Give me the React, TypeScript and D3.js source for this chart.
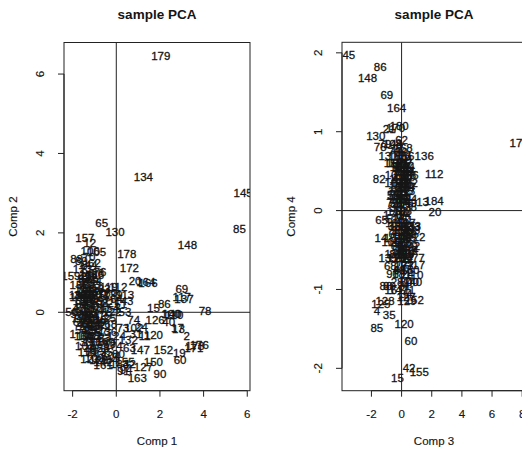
import React from 'react';
import * as d3 from 'd3';

const labels = [
  1,2,3,4,5,6,7,8,9,10,11,12,13,14,15,16,17,18,19,20,
  21,22,23,24,25,26,27,28,29,30,31,32,33,34,35,36,37,38,39,40,
  41,42,43,44,45,46,47,48,49,50,51,52,53,54,55,56,57,58,59,60,
  61,62,63,64,65,66,67,68,69,70,71,72,73,74,75,76,77,78,79,80,
  81,82,83,84,85,86,87,88,89,90,91,92,93,94,95,96,97,98,99,100,
  101,102,103,104,105,106,107,108,109,110,111,112,113,114,115,116,117,118,119,120,
  121,122,123,124,125,126,127,128,129,130,131,132,133,134,135,136,137,138,139,140,
  141,142,143,144,145,146,147,148,149,150,151,152,153,154,155,156,157,158,159,160,
  161,162,163,164,165,166,167,168,169,170,171,172,173,174,175,176,177,178,179,180,
  181,182,183,184,
];

const comp1 = [
  -2.0, 3.23, -1.35, -1.1, -1.5, -1.25, -0.9, -1.45, -1.6, -1.3,
  1.3, -1.21, 2.85, -1.0, 1.7, -0.7, 2.8, -1.89, 2.89, 0.86,
  -1.2, -0.4, -1.15, 1.15, -0.3, -0.85, -1.55, -0.6, -1.0, -1.4,
  0.9, -1.05, -1.25, -0.2, -0.45, -1.65, -1.35, -0.75, -1.1, 2.4,
  -1.5, 0.6, -1.2, -0.95, -1.7, -1.3, -0.55, -1.05, -1.45, -1.8,
  0.2, -0.9, 0.4, -1.6, -1.2, -2.05, -0.7, -1.4, -0.3, 2.92,
  -1.3, -1.0, 0.6, 0.0, -0.67, -1.15, -1.7, -0.85, 3.0, -1.25,
  -0.5, -1.45, 0.3, 0.8, -1.35, -0.75, -1.1, 4.07, -1.55, 0.1,
  -1.0, -1.35, -0.55, -1.6, 5.64, 2.2, -1.2, -1.82, -1.6, 2.0,
  0.32, -1.1, -1.5, 0.45, -0.9, -1.3, -0.6, -1.05, -1.6, 2.5,
  -1.4, 0.8, -1.15, -0.25, -0.9, -1.2, -1.45, -0.8, -1.0, 2.65,
  -1.25, 0.09, 0.4, -1.5, -0.65, -1.35, 3.0, -1.05, -0.35, 1.7,
  -1.21, -0.2, -1.55, 0.0, -0.95, 1.78, 1.24, -1.4, -0.8, -0.06,
  -1.25, 0.55, -0.7, 1.24, -1.1, -0.4, 3.1, -1.55, -0.15, 2.55,
  -1.35, -0.6, 0.35, -1.3, 5.81, -0.95, 1.1, 3.26, -1.45, 1.7,
  -1.15, 2.16, -1.3, -0.3, 0.4, -1.0, -1.44, -1.7, -2.08, -0.5,
  -0.6, -1.2, 0.96, 1.35, -1.05, 1.45, -1.5, -0.4, -1.25, -0.9,
  3.55, 0.6, 3.6, -0.15, -1.6, 3.8, -0.75, 0.48, 2.04, -0.4,
  -1.7, -1.1, 0.15, -1.25,
];

const comp2 = [
  -0.55, -0.6, -0.2, -0.9, 0.3, -0.65, 0.1, 1.2, 0.75, 0.05,
  -0.6, 1.75, -0.42, -0.3, 0.1, -1.1, -0.38, 0.44, -1.02, 0.8,
  0.9, 0.25, -0.45, -0.36, -0.15, 1.0, -0.1, -0.9, 0.55, -0.75,
  -0.55, -0.05, 0.2, -1.2, -1.0, 0.45, -0.45, -0.2, 0.35, -0.25,
  -0.3, -1.3, -0.95, 0.8, 0.1, 0.6, 0.05, -0.6, 0.9, -0.05,
  0.2, -0.45, 0.0, -0.45, 0.0, 0.0, -0.5, 0.35, -0.8, -1.2,
  -0.3, 1.25, -0.9, 0.35, 2.24, 0.45, -0.25, -0.75, 0.59, 1.4,
  -0.35, 0.1, -0.4, -0.2, 0.75, 1.02, -1.0, 0.04, 0.55, -1.05,
  -0.15, 0.45, -0.65, 0.2, 2.11, 0.21, -0.55, 1.35, 1.3, -1.55,
  -1.47, 0.15, 0.85, -1.45, -0.9, 1.0, 0.3, -0.35, 0.0, -0.05,
  -0.6, -0.38, 0.7, -1.1, 1.53, 1.55, -0.85, 0.25, -1.15, -0.07,
  0.35, 0.63, 0.44, 0.6, -0.1, -1.0, 0.4, 0.1, 0.65, -0.57,
  -1.18, 0.0, 1.1, -0.6, 0.45, -0.19, -1.37, -0.15, -1.2, 2.02,
  0.95, -0.7, 0.6, 3.4, -0.75, -0.5, 0.35, 0.3, 0.45, -0.05,
  -0.35, -1.25, 0.3, 1.2, 3.02, -0.25, -0.95, 1.71, 0.45, -1.24,
  -0.2, -0.95, 0.55, 0.1, -1.25, 0.95, 1.87, 0.7, 0.91, -0.75,
  -1.33, -0.35, -1.65, 0.77, 0.3, 0.73, -0.6, -0.3, 0.8, 0.5,
  -0.9, 1.13, -0.85, -0.85, -0.15, -0.82, 0.45, 1.46, 6.47, 0.5,
  0.4, -0.6, -1.3, -0.1,
];

const comp3 = [
  -0.3, 0.6, 0.1, -1.64, -0.2, 0.2, -0.4, -0.1, 0.3, -0.7,
  0.5, -0.3, 1.39, -1.37, -0.27, 0.0, 0.5, 0.2, 0.6, 2.21,
  -0.82, 0.3, -0.1, 0.4, -0.2, 0.1, 0.45, -0.3, 0.1, 0.0,
  0.2, -0.5, 0.84, 0.3, -0.82, -0.05, 0.2, 0.6, 0.1, 0.73,
  -0.25, 0.5, 0.0, -0.35, -3.5, 0.25, 0.45, -0.15, 0.3, -0.4,
  0.1, -0.6, 0.0, -0.1, 0.35, -0.2, 0.15, -0.55, 0.05, 0.62,
  -0.3, 0.0, 0.25, -0.45, -1.33, 0.2, 0.55, -0.75, -0.98, -0.5,
  0.3, 0.1, -0.2, 0.35, -0.6, -0.2, 0.4, -1.42, -1.1, 0.3,
  0.05, -1.48, 0.5, 0.25, -1.64, -1.42, -0.4, -1.04, -0.8, 0.4,
  -0.1, 0.0, 0.55, 0.2, -0.25, -0.6, 0.35, 0.2, -0.35, 0.0,
  0.15, -0.15, -0.5, 0.1, -0.45, -0.7, 0.3, -0.6, 0.45, 0.84,
  -0.05, 2.16, 0.3, 0.5, -0.3, 0.25, 0.95, -0.4, 0.15, 0.17,
  -0.3, 0.95, -0.2, 0.4, -1.37, 0.05, 0.3, -1.1, 0.35, -1.71,
  -0.9, 0.1, 0.65, 0.2, -0.9, 1.5, 0.1, 0.05, -0.5, 0.73,
  -0.15, 0.6, -0.3, 0.25, 0.3, -0.1, -0.2, -2.26, 0.4, 0.55,
  -0.55, 0.84, 0.15, -0.2, 1.17, -0.35, -0.55, 0.05, -0.25, 0.0,
  -0.5, 0.45, 0.35, -0.33, -0.25, 0.5, -0.4, 0.1, 0.2, -0.4,
  -0.1, 0.0, -0.35, 0.25, 0.4, 0.15, 0.9, -0.6, 7.8, -0.16,
  0.0, -0.2, 0.6, 2.16,
];

const comp4 = [
  0.2, -0.6, 0.45, -1.27, 0.3, -0.1, 0.55, -0.45, 0.5, 0.45,
  -1.0, 0.8, 0.11, -0.35, -2.12, -0.5, -0.55, 0.35, -0.3, -0.01,
  1.04, -0.2, -0.6, -0.8, 0.1, 0.6, -0.6, -0.9, 0.3, 0.75,
  -0.95, -0.2, -0.21, -1.05, -1.32, 0.15, 0.55, 0.05, -0.4, -0.9,
  0.4, -1.99, 0.2, 0.85, 1.97, -0.35, 0.5, -0.75, 0.4, 0.1,
  -0.15, -0.1, 0.35, -0.3, 0.25, -0.5, 0.65, 0.2, 0.55, -1.65,
  -0.45, 0.9, -0.55, -0.3, -0.12, 0.1, 0.3, -0.7, 1.47, 0.75,
  0.7, -0.65, 0.45, -0.3, 0.1, 0.5, -0.7, 0.81, 0.85, -0.9,
  0.6, 0.4, -0.28, 0.15, -1.49, 1.82, -0.55, -0.95, -0.95, -0.25,
  -0.75, 0.0, 0.45, -0.05, -0.25, -0.8, 0.4, -0.5, 0.05, -0.35,
  0.65, 0.55, 0.35, -0.6, -0.15, -0.4, -0.15, 0.85, -0.45, -0.81,
  -0.25, 0.47, 0.25, -0.5, 0.25, 0.7, -0.69, -0.6, 0.5, -1.43,
  -0.6, -0.33, 0.3, 0.15, -1.18, -0.4, -1.1, -1.15, -1.15, 0.95,
  0.7, 0.4, -0.2, 0.5, -0.6, 0.7, 0.6, 0.0, -0.55, -0.9,
  0.6, -0.45, -0.4, 0.55, -0.2, 0.35, -1.0, 1.68, 0.1, -0.75,
  -0.35, -1.13, -0.7, 0.4, -2.04, 0.2, 0.6, 0.5, -0.2, -0.1,
  -1.0, 0.35, -0.5, 1.3, 0.7, 0.45, 0.6, 0.8, -0.55, 1.05,
  0.2, 0.25, 0.0, 0.3, -0.35, 0.1, -0.6, -0.05, 0.86, 1.07,
  -0.8, 0.15, -0.25, 0.12,
];

const titleText = 'sample PCA';
const FONT = '"Liberation Sans", Arial, Helvetica, sans-serif';
const INK = '#151515';

function rRange(vals: number[]): [number, number] {
  const [lo, hi] = d3.extent(vals) as [number, number];
  const r = hi - lo;
  return [lo - 0.04 * r, hi + 0.04 * r];
}

type PanelProps = {
  id: string;
  xv: number[];
  yv: number[];
  left: number;
  right: number;
  top: number;
  bottom: number;
  xLabel: string;
  yLabel: string;
};

function fmt(t: number) {
  return t < 0 ? `-${Math.abs(t)}` : `${t}`;
}

function Panel({ id, xv, yv, left, right, top, bottom, xLabel, yLabel }: PanelProps) {
  const x = d3.scaleLinear().domain(rRange(xv)).range([left, right]);
  const y = d3.scaleLinear().domain(rRange(yv)).range([bottom, top]);
  const xt = x.ticks(5);
  const yt = y.ticks(5);
  const cx = (left + right) / 2;
  const cy = (top + bottom) / 2;
  const stroke = '#222';
  const textStyle = { fill: INK, stroke: INK, strokeWidth: 0.3 } as const;
  return (
    <g>
      <defs>
        <clipPath id={id}>
          <rect x={left} y={top} width={right - left} height={bottom - top} />
        </clipPath>
      </defs>
      <text x={cx} y={18.5} textAnchor="middle" fontWeight="bold" fontSize={13.5} fill={INK}>
        {titleText}
      </text>
      <g clipPath={`url(#${id})`}>
        <line x1={x(0)} x2={x(0)} y1={top} y2={bottom} stroke={stroke} />
        <line x1={left} x2={right} y1={y(0)} y2={y(0)} stroke={stroke} />
        {labels.map((lab, i) => (
          <text
            key={lab}
            x={x(xv[i])}
            y={y(yv[i])}
            dy="0.36em"
            textAnchor="middle"
            fontSize={11.5}
            {...textStyle}
          >
            {lab}
          </text>
        ))}
      </g>
      <rect x={left} y={top} width={right - left} height={bottom - top} fill="none" stroke={stroke} />
      <line x1={x(xt[0])} x2={x(xt[xt.length - 1])} y1={bottom} y2={bottom} stroke={stroke} />
      {xt.map((t) => (
        <g key={`x${t}`}>
          <line x1={x(t)} x2={x(t)} y1={bottom} y2={bottom + 6} stroke={stroke} />
          <text x={x(t)} y={417.5} textAnchor="middle" fontSize={11.5} {...textStyle} strokeWidth={0.15}>
            {fmt(t)}
          </text>
        </g>
      ))}
      <line x1={left} x2={left} y1={y(yt[0])} y2={y(yt[yt.length - 1])} stroke={stroke} />
      {yt.map((t) => (
        <g key={`y${t}`}>
          <line x1={left - 6} x2={left} y1={y(t)} y2={y(t)} stroke={stroke} />
          <text
            transform={`translate(${left - 20},${y(t)}) rotate(-90)`}
            textAnchor="middle"
            fontSize={11.5}
            {...textStyle}
            strokeWidth={0.15}
          >
            {fmt(t)}
          </text>
        </g>
      ))}
      <text x={cx} y={445} textAnchor="middle" fontSize={11.5} {...textStyle} strokeWidth={0.15}>
        {xLabel}
      </text>
      <text
        transform={`translate(${left - 47},${cy}) rotate(-90)`}
        textAnchor="middle"
        fontSize={11.5}
        {...textStyle}
        strokeWidth={0.15}
      >
        {yLabel}
      </text>
    </g>
  );
}

export default function App() {
  return (
    <svg
      width={522}
      height={454}
      viewBox="0 0 522 454"
      style={{ position: 'absolute', left: 0, top: 0, background: '#fff', fontFamily: FONT }}
    >
      <rect x={0} y={0} width={522} height={454} fill="#fff" />
      <Panel
        id="clipA"
        xv={comp1}
        yv={comp2}
        left={64}
        right={250}
        top={42.5}
        bottom={390.7}
        xLabel="Comp 1"
        yLabel="Comp 2"
      />
      <Panel
        id="clipB"
        xv={comp3}
        yv={comp4}
        left={342}
        right={526}
        top={42.3}
        bottom={390.7}
        xLabel="Comp 3"
        yLabel="Comp 4"
      />
    </svg>
  );
}
